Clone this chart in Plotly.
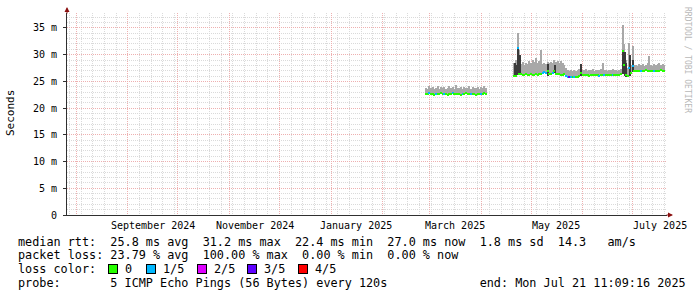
import plotly.graph_objects as go
import pandas as pd

# ---------------- data ----------------
x_start = "2024-07-26 11:09:16"
x_end = "2025-07-21 11:09:16"

month_starts = ["2024-08-01", "2024-09-01", "2024-10-01", "2024-11-01", "2024-12-01",
                "2025-01-01", "2025-02-01", "2025-03-01", "2025-04-01", "2025-05-01",
                "2025-06-01", "2025-07-01"]
month_label_pos = ["2024-09-16", "2024-11-16", "2025-01-16", "2025-03-16", "2025-05-16", "2025-07-17"]
month_labels = ["September 2024", "November 2024", "January 2025", "March 2025", "May 2025", "July 2025"]

y_ticks = [0, 5, 10, 15, 20, 25, 30, 35]
y_ticktext = ["0", "5 m", "10 m", "15 m", "20 m", "25 m", "30 m", "35 m"]

# segment 1 (late Feb - early Apr 2025), values in ms
mar_start = "2025-02-27"
mar_median = [22.7, 22.6, 22.8, 22.6, 22.7, 22.5, 22.6, 22.7, 22.6, 22.8,
              22.6, 22.7, 22.6, 22.5, 22.7, 22.6, 22.8, 22.7, 22.6, 22.6,
              22.7, 22.5, 22.6, 22.7, 22.8, 22.6, 22.7, 22.6, 22.7, 22.6,
              22.5, 22.7, 22.6, 22.7, 22.6, 22.8, 22.7]
mar_max = [23.8, 23.6, 24.1, 23.7, 23.9, 23.5, 23.8, 24.2, 23.6, 23.9,
           23.7, 24.0, 23.6, 23.8, 24.1, 23.7, 23.9, 23.6, 24.3, 23.8,
           23.7, 23.9, 23.6, 24.0, 23.8, 23.7, 24.1, 23.6, 23.9, 23.8,
           23.7, 24.0, 23.6, 23.9, 23.8, 24.2, 23.7]
mar_loss = [0, 0, 1, 0, 0, 0, 1, 0, 0, 0,
            0, 1, 0, 0, 0, 0, 1, 0, 0, 0,
            0, 0, 1, 0, 0, 0, 0, 1, 0, 0,
            0, 0, 0, 1, 0, 0, 0]

# segment 2 (late Apr - Jul 2025)
may_start = "2025-04-21"
may_median = [26.0, 26.1, 31.2, 26.4, 26.3, 26.2, 26.2, 26.3, 26.2, 26.2,
              26.3, 26.2, 26.2, 26.3, 26.2, 26.3, 26.4, 26.6, 26.8, 26.5,
              26.9, 26.4, 26.3, 26.6, 26.9, 26.4, 26.3, 26.3, 26.2, 26.2,
              26.3, 26.1, 25.9, 25.8, 25.8, 25.8, 25.8, 25.9, 25.9, 26.0,
              26.5,
              26.2, 26.2, 26.2, 26.2, 26.1, 26.2, 26.2, 26.2, 26.2, 26.2, 26.1, 26.2,
              26.2, 26.2, 26.2, 26.2, 26.2, 26.2, 26.2, 26.2, 26.2, 26.2, 26.2, 26.3,
              30.6, 28.0, 26.2, 26.0, 27.5, 26.5, 27.8, 27.0,
              27.0, 27.0, 26.9, 27.0, 27.0, 27.0, 27.1, 27.0, 27.0, 27.0,
              26.9, 27.0, 27.0, 27.0, 27.0, 27.1, 27.0, 27.0]
may_max = [28.4, 29.0, 34.0, 30.8, 28.3, 28.6, 28.0, 28.5, 28.2, 28.8,
           28.4, 29.0, 28.6, 29.3, 28.5, 28.9, 30.9, 28.3, 28.5, 28.2,
           28.6, 28.4, 28.7, 28.4, 29.0, 28.6, 28.9, 28.4, 28.8, 28.4,
           28.0, 27.5, 27.2, 27.0, 27.1, 26.9, 27.2, 27.0, 27.1, 27.3,
           28.2,
           27.2, 27.1, 27.3, 27.0, 27.2, 27.1, 27.4, 27.0, 27.2, 27.1, 27.1, 27.3,
           28.5, 27.2, 27.1, 27.0, 27.2, 27.1, 27.3, 27.1, 27.2, 27.0, 27.1, 27.4,
           35.6, 32.0, 29.0, 27.5, 32.2, 28.0, 31.6, 28.0,
           28.0, 27.9, 28.3, 28.0, 28.2, 27.8, 28.1, 28.4, 29.7, 28.0,
           27.9, 28.2, 28.1, 28.3, 28.5, 28.0, 28.2, 28.1]
may_loss = [0, 0, 1, 0, 0, 0, 0, 0, 0, 0,
            0, 0, 0, 0, 0, 0, 0, 1, 1, 1,
            0, 0, 0, 1, 0, 0, 0, 0, 0, 0,
            0, 1, 1, 3, 1, 0, 1, 0, 0, 0,
            0,
            0, 0, 0, 0, 0, 0, 0, 0, 0, 0, 1, 0,
            0, 1, 0, 0, 0, 0, 1, 0, 0, 0, 0, 0,
            0, 0, 0, 0, 1, 0, 1, 0,
            0, 0, 0, 1, 0, 0, 0, 0, 0, 0,
            0, 1, 0, 0, 0, 0, 0, 0]
# dense (dark) part of the smoke where present
may_dark_lo = [25.9, 26.0, 26.2, 26.2] + [None] * 16 + [26.0, None, None, None, 26.5] + [None] * 15 + \
              [26.0] + [None] * 24 + [26.4, 26.0, 25.8, None, 26.0, None, 26.8, None] + [None] * 18
may_dark_hi = [28.4, 28.0, 31.2, 30.0] + [None] * 16 + [28.2, None, None, None, 28.0] + [None] * 15 + \
              [28.3] + [None] * 24 + [30.6, 30.5, 28.5, None, 30.0, None, 29.0, None] + [None] * 18

loss_colors = ["#26ff00", "#00b8ff", "#dd00ff", "#5e00ff", "#ff0000"]
loss_labels = ["0", "1/5", "2/5", "3/5", "4/5"]

legend_rtt = "median rtt:  25.8 ms avg  31.2 ms max  22.4 ms min  27.0 ms now  1.8 ms sd  14.3   am/s"
legend_loss = "packet loss: 23.79 % avg  100.00 % max  0.00 % min  0.00 % now"
legend_color = "loss color:"
legend_probe = "probe:       5 ICMP Echo Pings (56 Bytes) every 120s             end: Mon Jul 21 11:09:16 2025"

# ---------------- figure ----------------
DAY = 86400000
W, H = 697, 297
L, R, T, B = 67, 30, 13, 82
PW, PH = W - L - R, H - T - B


def px(xp):
    return (xp - L) / PW


def py(yp):
    return (H - B - yp) / PH


def keep_spaces(s):
    return s.replace(" ", "\u00a0")


mar_dates = pd.date_range(mar_start, periods=len(mar_median), freq="D")
may_dates = pd.date_range(may_start, periods=len(may_median), freq="D")

fig = go.Figure()

for dates, med, mx in [(mar_dates, mar_median, mar_max), (may_dates, may_median, may_max)]:
    fig.add_trace(go.Bar(x=dates, base=med, y=[b - a for a, b in zip(med, mx)],
                         width=DAY * 1.05, marker=dict(color="#a8a8a8", line=dict(width=0)),
                         showlegend=False, hoverinfo="skip"))

dk_x = [d for d, lo in zip(may_dates, may_dark_lo) if lo is not None]
dk_lo = [lo for lo in may_dark_lo if lo is not None]
dk_hi = [hi for hi in may_dark_hi if hi is not None]
fig.add_trace(go.Bar(x=dk_x, base=dk_lo, y=[b - a for a, b in zip(dk_lo, dk_hi)],
                     width=DAY * 0.55, marker=dict(color="#3a3a3a", line=dict(width=0)),
                     showlegend=False, hoverinfo="skip"))

for dates, med, loss in [(mar_dates, mar_median, mar_loss), (may_dates, may_median, may_loss)]:
    fig.add_trace(go.Bar(x=dates, base=[m - 0.19 for m in med], y=[0.38] * len(med),
                         width=DAY * 1.05,
                         marker=dict(color=[loss_colors[l] for l in loss], line=dict(width=0)),
                         showlegend=False, hoverinfo="skip"))

MONO = "DejaVu Sans Mono"
red_grid = "#eeb0b0"
gray_grid = "#dadada"

fig.update_layout(
    width=W, height=H, margin=dict(l=L, r=R, t=T, b=B, pad=0),
    paper_bgcolor="white", plot_bgcolor="white", barmode="overlay", bargap=0,
    font=dict(family=MONO, size=10, color="black"),
    xaxis=dict(type="date", range=[x_start, x_end], tickmode="array", tickvals=month_starts,
               showticklabels=False, ticks="", showgrid=True, gridcolor=red_grid,
               griddash="1px,1px", gridwidth=1, zeroline=False,
               showline=True, linecolor="#303030", linewidth=1,
               minor=dict(showgrid=True, tick0="2024-07-28", dtick=7 * DAY,
                          gridcolor=gray_grid, griddash="1px,1px", gridwidth=1)),
    yaxis=dict(range=[0, 37.8], tickmode="array", tickvals=y_ticks, ticktext=y_ticktext,
               ticks="outside", ticklen=3, tickcolor="#303030", ticklabelstandoff=4,
               showgrid=True, gridcolor=red_grid, griddash="1px,1px", gridwidth=1,
               zeroline=False, showline=True, linecolor="#303030", linewidth=1,
               tickfont=dict(family=MONO, size=10, color="black"),
               minor=dict(showgrid=True, dtick=1, gridcolor=gray_grid,
                          griddash="1px,1px", gridwidth=1)),
)

ann = []
for d, t in zip(month_label_pos, month_labels):
    ann.append(dict(x=d, y=py(225), xref="x", yref="paper", text=t, showarrow=False,
                    xanchor="center", yanchor="middle", font=dict(family=MONO, size=10)))
ann.append(dict(x=px(10), y=py(113), xref="paper", yref="paper", text="Seconds",
                textangle=-90, showarrow=False, xanchor="center", yanchor="middle",
                font=dict(family=MONO, size=11)))
ann.append(dict(x=px(688), y=py(60), xref="paper", yref="paper", text="RRDTOOL / TOBI OETIKER",
                textangle=90, showarrow=False, xanchor="center", yanchor="middle",
                font=dict(family=MONO, size=8, color="#b8b8b8")))
ann.append(dict(x=px(67), y=py(7), xref="paper", yref="paper", ax=0, ay=8, text="",
                showarrow=True, arrowhead=2, arrowsize=1, arrowwidth=1, arrowcolor="#8b1010"))
ann.append(dict(x=px(673), y=py(215), xref="paper", yref="paper", ax=-8, ay=0, text="",
                showarrow=True, arrowhead=2, arrowsize=1, arrowwidth=1, arrowcolor="#8b1010"))

LF = dict(family=MONO, size=11.8, color="black")
for yy, t in [(241.7, legend_rtt), (255.2, legend_loss), (269.2, legend_color), (282.8, legend_probe)]:
    ann.append(dict(x=px(16), y=py(yy), xref="paper", yref="paper", text=keep_spaces(t),
                    showarrow=False, xanchor="left", yanchor="middle", font=LF))
box_x = [108, 146, 197, 247, 298]
for xx, c, t in zip(box_x, loss_colors, loss_labels):
    ann.append(dict(x=px(xx), y=py(269.2), xref="paper", yref="paper", text="", width=8, height=8,
                    bgcolor=c, bordercolor="black", borderwidth=1, borderpad=0,
                    showarrow=False, xanchor="left", yanchor="middle"))
    ann.append(dict(x=px(xx + 15), y=py(269.2), xref="paper", yref="paper", text=t,
                    showarrow=False, xanchor="left", yanchor="middle", font=LF))

fig.update_layout(annotations=ann)
fig.write_html("out.html")
